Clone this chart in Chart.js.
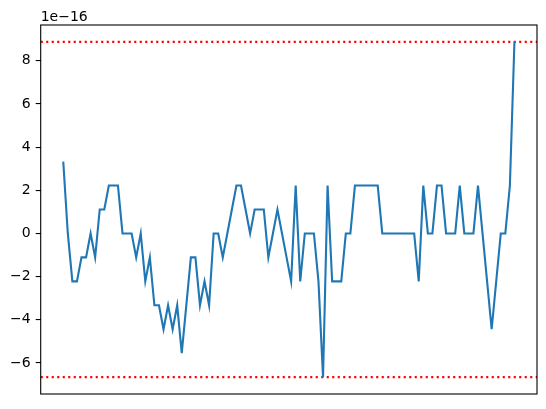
<!DOCTYPE html>
<html>
<head>
<meta charset="utf-8">
<script src="https://cdn.jsdelivr.net/npm/chart.js@4/dist/chart.umd.min.js"></script>
<style>
  html, body { margin: 0; padding: 0; background: #fff; }
  #wrap { width: 546px; height: 409px; }
</style>
</head>
<body>
<div id="wrap"><canvas id="errChart" width="546" height="409"></canvas></div>
<script>
// values in units of 1e-16 (steps of ~1.11e-16)
const values = [
  3.33, 0, -2.22, -2.22, -1.11, -1.11, 0, -1.11, 1.11, 1.11,
  2.22, 2.22, 2.22, 0, 0, 0, -1.11, 0, -2.22, -1.11,
  -3.33, -3.33, -4.44, -3.33, -4.44, -3.33, -5.55, -3.33, -1.11, -1.11,
  -3.33, -2.22, -3.33, 0, 0, -1.11, 0, 1.11, 2.22, 2.22,
  1.11, 0, 1.11, 1.11, 1.11, -1.11, 0, 1.11, 0, -1.11,
  -2.22, 2.22, -2.22, 0, 0, 0, -2.22, -6.66, 2.22, -2.22,
  -2.22, -2.22, 0, 0, 2.22, 2.22, 2.22, 2.22, 2.22, 2.22,
  0, 0, 0, 0, 0, 0, 0, 0, -2.22, 2.22,
  0, 0, 2.22, 2.22, 0, 0, 0, 2.22, 0, 0,
  0, 2.22, 0, -2.22, -4.44, -2.22, 0, 0, 2.22, 8.88
];
const yTicks = [-6, -4, -2, 0, 2, 4, 6, 8];
const offsetLabel = '1e\u221216';

const xMin = -4.95, xMax = 103.95;
const hiVal = Math.max(...values);
const loVal = Math.min(...values);

const frame = {
  id: 'frame',
  afterDatasetsDraw(chart) {
    const a = chart.chartArea, c = chart.ctx;
    c.save();
    c.strokeStyle = '#000';
    c.lineWidth = 1.1;
    c.strokeRect(a.left, a.top, a.right - a.left, a.bottom - a.top);
    c.fillStyle = '#000';
    c.font = '14px "DejaVu Sans"';
    c.textAlign = 'left';
    c.textBaseline = 'alphabetic';
    c.fillText(offsetLabel, a.left, a.top - 4.5);
    c.restore();
  }
};

document.addEventListener('DOMContentLoaded', function() {
  const ctx = document.getElementById('errChart').getContext('2d');
  new Chart(ctx, {
    type: 'line',
    data: {
      datasets: [
        {
          data: values.map((v, i) => ({ x: i, y: v })),
          borderColor: '#1f77b4',
          borderWidth: 2.1,
          pointRadius: 0,
          tension: 0
        },
        {
          data: [{ x: xMin, y: hiVal }, { x: xMax, y: hiVal }],
          borderColor: '#ff0000',
          borderWidth: 2.1,
          borderDash: [2.1, 3.4],
          pointRadius: 0
        },
        {
          data: [{ x: xMin, y: loVal }, { x: xMax, y: loVal }],
          borderColor: '#ff0000',
          borderWidth: 2.1,
          borderDash: [2.1, 3.4],
          pointRadius: 0
        }
      ]
    },
    options: {
      responsive: false,
      animation: false,
      layout: { padding: { top: 25, right: 9, bottom: 15, left: 0 } },
      plugins: { legend: { display: false }, tooltip: { enabled: false } },
      scales: {
        x: {
          type: 'linear',
          min: xMin,
          max: xMax,
          display: false
        },
        y: {
          min: -7.44,
          max: 9.66,
          border: { display: false },
          grid: { drawOnChartArea: false, tickLength: 5, color: '#000', lineWidth: 1.1 },
          afterFit(scale) { scale.width = 40.7; },
          afterBuildTicks(scale) { scale.ticks = yTicks.map(v => ({ value: v })); },
          ticks: {
            padding: 5,
            color: '#000',
            font: { family: 'DejaVu Sans', size: 14 },
            callback: v => (v < 0 ? '\u2212' : '') + Math.abs(v)
          }
        }
      }
    },
    plugins: [frame]
  });
});
</script>
</body>
</html>
